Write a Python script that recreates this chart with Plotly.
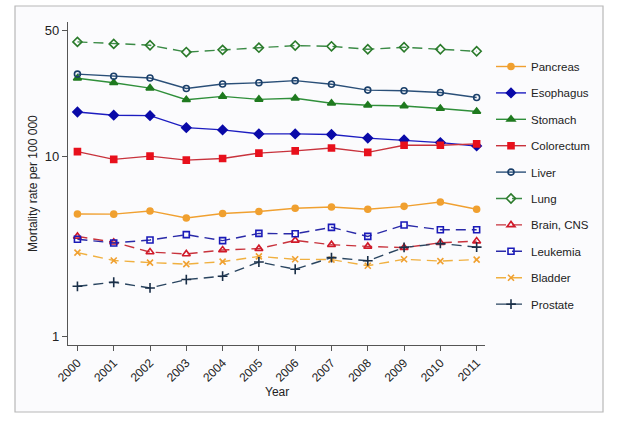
import plotly.graph_objects as go

years = list(range(2000, 2012))

pancreas   = [4.77, 4.76, 4.96, 4.53, 4.80, 4.92, 5.13, 5.22, 5.07, 5.26, 5.56, 5.07]
esophagus  = [17.6, 16.9, 16.8, 14.4, 14.0, 13.3, 13.3, 13.2, 12.6, 12.3, 11.9, 11.4]
stomach    = [27.1, 25.6, 23.9, 20.6, 21.5, 20.7, 21.0, 19.7, 19.2, 19.0, 18.4, 17.7]
colorectum = [10.6, 9.6, 10.0, 9.5, 9.7, 10.4, 10.7, 11.1, 10.5, 11.5, 11.5, 11.7]
liver      = [28.6, 27.8, 27.2, 23.8, 25.2, 25.6, 26.3, 25.1, 23.3, 23.1, 22.6, 21.2]
lung       = [43.2, 42.1, 41.4, 37.9, 39.0, 40.1, 41.2, 40.8, 39.3, 40.3, 39.3, 38.3]
brain      = [3.58, 3.32, 2.93, 2.86, 3.01, 3.06, 3.40, 3.22, 3.15, 3.10, 3.30, 3.37]
leukemia   = [3.45, 3.29, 3.42, 3.66, 3.39, 3.72, 3.70, 4.02, 3.58, 4.14, 3.90, 3.90]
bladder    = [2.91, 2.63, 2.56, 2.51, 2.59, 2.77, 2.67, 2.66, 2.46, 2.67, 2.61, 2.66]
prostate   = [1.89, 1.99, 1.85, 2.06, 2.15, 2.58, 2.35, 2.73, 2.62, 3.11, 3.27, 3.12]

y_tickvals = [1, 10, 50]
y_ticktext = ["1", "10", "50"]

series = [
    ("Pancreas", pancreas, "#f0a030", "#f0a030", "solid", "circle", 6),
    ("Esophagus", esophagus, "#1c1cc0", "#0a0aa8", "solid", "diamond", 7),
    ("Stomach", stomach, "#2f8f3a", "#1f7a1f", "solid", "triangle-up", 7),
    ("Colorectum", colorectum, "#c8323c", "#e8101c", "solid", "square", 6),
    ("Liver", liver, "#2a4f78", "#1a3f6a", "solid", "circle-open", 6),
    ("Lung", lung, "#3a8a45", "#2a7a2a", "dash", "diamond-open", 7),
    ("Brain, CNS", brain, "#c8323c", "#d01a2a", "dash", "triangle-up-open", 7),
    ("Leukemia", leukemia, "#2a2aa8", "#1a1ab8", "dash", "square-open", 6),
    ("Bladder", bladder, "#f0b040", "#f0a030", "dash", "x-thin-open", 6),
    ("Prostate", prostate, "#2a4560", "#1a2f48", "dash", "cross-thin-open", 7),
]

fig = go.Figure()
for name, vals, lc, mc, dash, sym, ms in series:
    d = "10px,6px" if dash == "dash" else "solid"
    fig.add_trace(go.Scatter(
        x=years, y=vals, name=name, mode="lines+markers",
        legendgroup=name,
        line=dict(color=lc, width=1.4, dash=d),
        marker=dict(symbol=sym, size=ms, color=mc,
                    line=dict(color=mc, width=1.6)),
    ))

W, H = 640, 423
L, R, T, B = 68, 485, 22, 345
pw, ph = R - L, B - T

def px(x):
    return (x - L) / pw

def py(y):
    return (B - y) / ph

fig.add_shape(type="rect", xref="paper", yref="paper",
              x0=px(15), x1=px(603), y0=py(412), y1=py(6),
              line=dict(color="#b8b8b8", width=1.2),
              fillcolor="#fbfbfd", layer="below")

fig.add_annotation(xref="paper", yref="paper", x=px(33), y=py(184),
                   text="Mortality rate per 100 000", textangle=-90,
                   showarrow=False, font=dict(size=12, color="#222"),
                   xanchor="center", yanchor="middle")
fig.add_annotation(xref="paper", yref="paper", x=px(277), y=py(392),
                   text="Year", showarrow=False,
                   font=dict(size=12, color="#222"),
                   xanchor="center", yanchor="middle")

fig.update_layout(
    width=W, height=H,
    margin=dict(l=L, r=W - R, t=T, b=H - B, autoexpand=False),
    paper_bgcolor="white",
    plot_bgcolor="rgba(0,0,0,0)",
    font=dict(family="Liberation Sans, Arial, sans-serif", size=12, color="#222"),
    showlegend=True,
    legend=dict(x=px(491), y=py(52), xanchor="left", yanchor="top",
                font=dict(size=11.5, color="#222"),
                tracegroupgap=7.4, itemwidth=30,
                bgcolor="rgba(0,0,0,0)"),
    xaxis=dict(
        range=[1999.74, 2011.23], tickvals=years, ticktext=[str(y) for y in years],
        tickangle=-45, showgrid=False, zeroline=False, automargin=False,
        showline=True, linecolor="#555", linewidth=1.2,
        ticks="outside", ticklen=5, tickcolor="#555",
        tickfont=dict(size=12),
    ),
    yaxis=dict(
        type="log", range=[-0.05, 1.746], automargin=False,
        tickvals=y_tickvals, ticktext=y_ticktext,
        showgrid=False, zeroline=False,
        showline=True, linecolor="#555", linewidth=1.2,
        ticks="outside", ticklen=5, tickcolor="#555",
        tickfont=dict(size=13),
    ),
)

fig.write_html("out.html", config={"displayModeBar": False},
               post_script="document.body.style.margin='0px';document.body.style.overflow='hidden';")
